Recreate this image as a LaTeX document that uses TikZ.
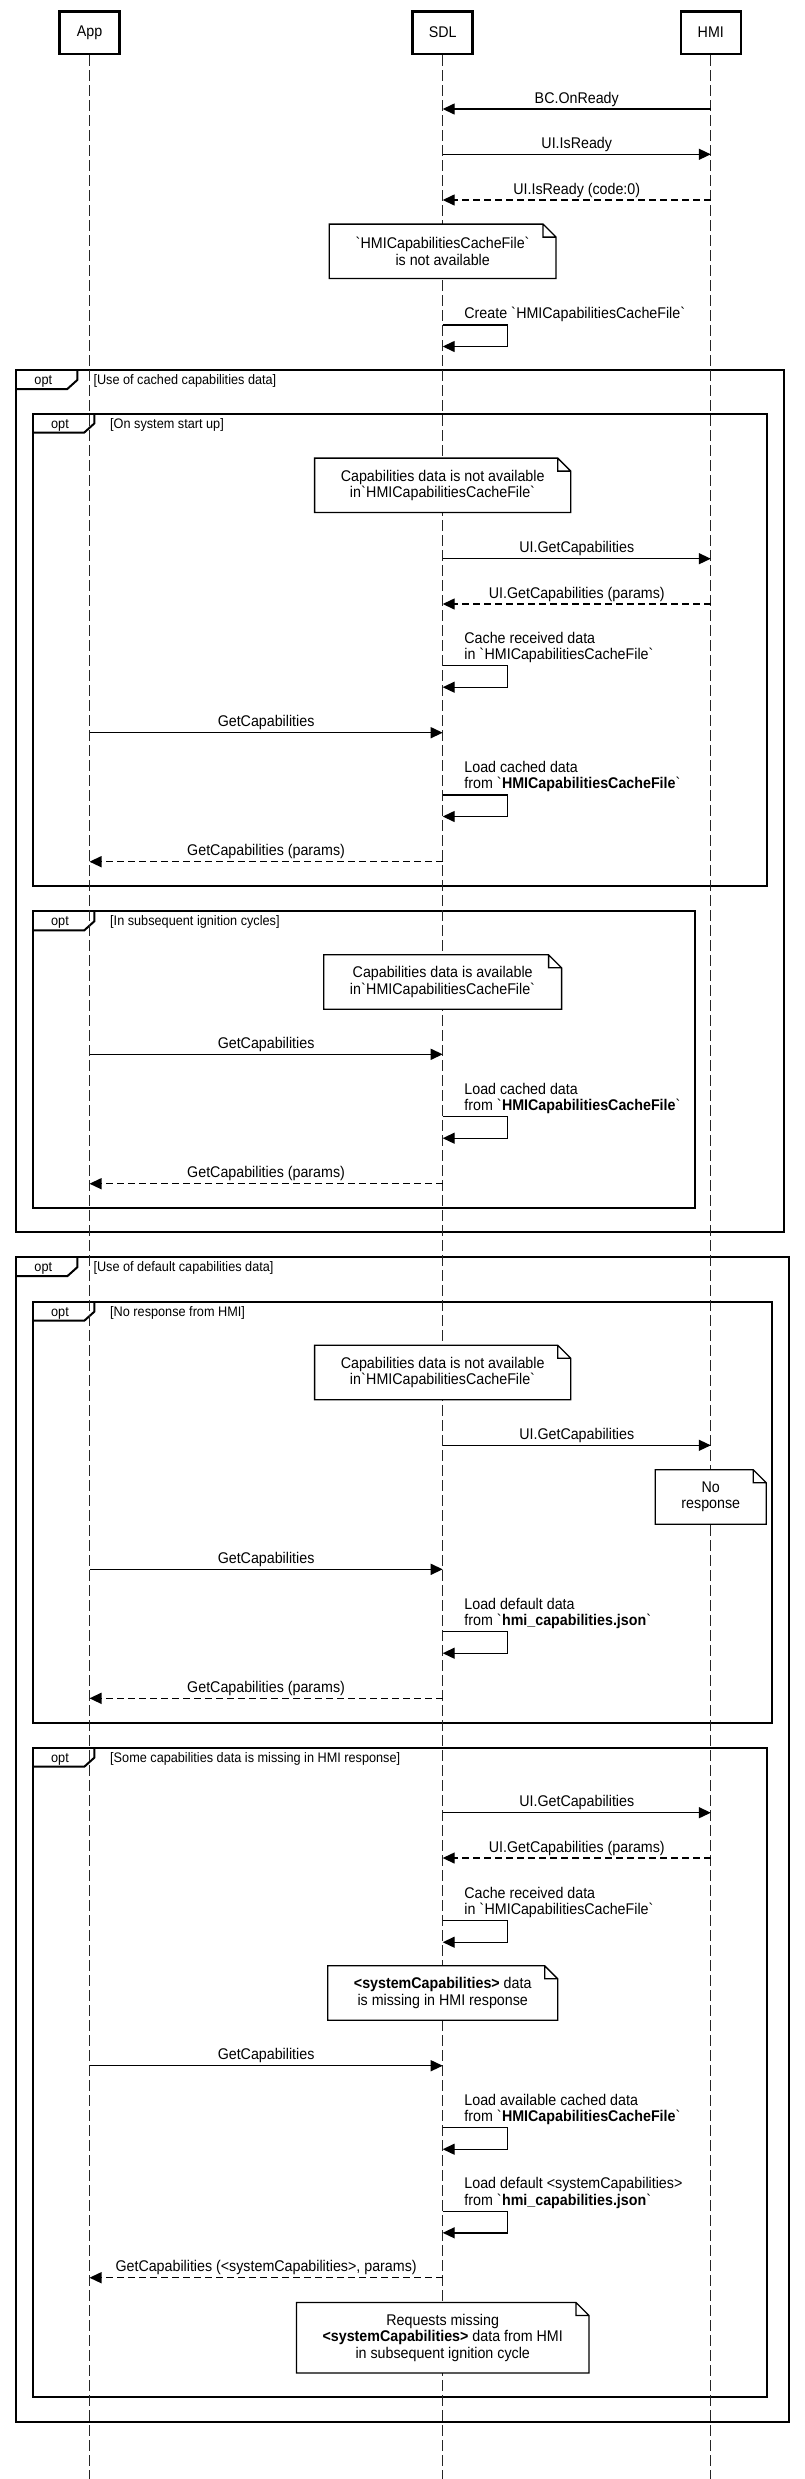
\documentclass[tikz,border=0pt]{standalone}
\usepackage{fontspec}
\setmainfont{Liberation Sans}[FakeStretch=0.92]
\usetikzlibrary{arrows.meta}

\begin{document}
\begin{tikzpicture}[x=1pt,y=-1pt,font=\fontsize{15.5}{16.3}\selectfont,
  actor/.style={draw,line width=2.5pt,minimum width=60pt,minimum height=42.5pt},
  life/.style={line width=1pt,black!85,dash pattern=on 11pt off 4pt},
  msg/.style={line width=1.4pt,-{Triangle[length=12pt,width=11pt]}},
  reply/.style={msg,dash pattern=on 7pt off 4pt},
  lbl/.style={anchor=base,inner sep=0pt,yshift=6pt},
  selflbl/.style={anchor=base west,align=left,inner sep=0pt,xshift=21.5pt,yshift=6.2pt},
  note/.style={fill=white,align=center,inner xsep=26pt,inner ysep=0pt,minimum height=54pt},
  fold/.style={line width=1.3pt},
  frame/.style={line width=2pt},
  optlbl/.style={anchor=base,inner sep=0pt,font=\fontsize{13.8}{15}\selectfont},
  guard/.style={anchor=base west,inner sep=0pt,font=\fontsize{13.8}{15}\selectfont}]
  \fill[white] (0,0) rectangle (804,2479);
  \useasboundingbox (0,0) rectangle (804,2479);

  \draw[frame] (16,370) rectangle (784.3,1232.3);
  \draw[frame] (16,389) -- (67.3,389) -- (77.3,380) -- (77.3,370);
  \node[optlbl] (o1) at (43.3,384) {opt};
  \node[guard] (g1) at (93.3,384) {[Use of cached capabilities data]};
  \draw[frame] (32.5,413.5) rectangle (767.3,885.5);
  \draw[frame] (32.5,432.5) -- (84.3,432.5) -- (94.3,423.5) -- (94.3,413.5);
  \node[optlbl] (o2) at (60,428) {opt};
  \node[guard] (g2) at (110,428) {[On system start up]};
  \draw[frame] (32.5,911.3) rectangle (694.7,1208.3);
  \draw[frame] (32.5,930.3) -- (84.3,930.3) -- (94.3,921.3) -- (94.3,911.3);
  \node[optlbl] (o3) at (60,925.8) {opt};
  \node[guard] (g3) at (110,925.8) {[In subsequent ignition cycles]};
  \draw[frame] (16,1257.2) rectangle (788.7,2421.7);
  \draw[frame] (16,1276.2) -- (67.3,1276.2) -- (77.3,1267.2) -- (77.3,1257.2);
  \node[optlbl] (o4) at (43.3,1271.2) {opt};
  \node[guard] (g4) at (93.3,1271.2) {[Use of default capabilities data]};
  \draw[frame] (32.5,1301.7) rectangle (772.3,1722.7);
  \draw[frame] (32.5,1320.7) -- (84.3,1320.7) -- (94.3,1311.7) -- (94.3,1301.7);
  \node[optlbl] (o5) at (60,1316.2) {opt};
  \node[guard] (g5) at (110,1316.2) {[No response from HMI]};
  \draw[frame] (32.5,1747.7) rectangle (767.3,2396.7);
  \draw[frame] (32.5,1766.7) -- (84.3,1766.7) -- (94.3,1757.7) -- (94.3,1747.7);
  \node[optlbl] (o6) at (60,1762.2) {opt};
  \node[guard] (g6) at (110,1762.2) {[Some capabilities data is missing in HMI response]};

  \node[actor] (app) at (89.5,32.5) {App};
  \node[actor] (sdl) at (442.7,32.5) {SDL};
  \node[actor] (hmi) at (710.8,32.5) {HMI};
  \draw[life] (app.south) -- (app |- 0,2479);
  \draw[life] (sdl.south) -- (sdl |- 0,2479);
  \draw[life] (hmi.south) -- (hmi |- 0,2479);

  \draw[msg] (hmi |- 0,109) -- node[lbl] (l1) {BC.OnReady} (sdl |- 0,109);
  \draw[msg] (sdl |- 0,154.3) -- node[lbl] (l2) {UI.IsReady} (hmi |- 0,154.3);
  \draw[reply] (hmi |- 0,200) -- node[lbl] (l3) {UI.IsReady (code:0)} (sdl |- 0,200);
  \node[note] (n1) at (sdl |- 0,251.3) {\textasciigrave HMICapabilitiesCacheFile\textasciigrave\\is not available};
  \draw[fold] (n1.north west) -- ([xshift=-13pt]n1.north east) -- ([yshift=-13pt]n1.north east) -- (n1.south east) -- (n1.south west) -- cycle ([xshift=-13pt]n1.north east) |- ([yshift=-13pt]n1.north east);
  \draw[msg] (sdl |- 0,325) -- ++(65,0) -- ++(0,21.5) -- (sdl |- 0,346.5);
  \node[selflbl] (s1) at (sdl |- 0,325) {Create \textasciigrave HMICapabilitiesCacheFile\textasciigrave};

  \node[note] (n2) at (sdl |- 0,485.3) {Capabilities data is not available\\in\textasciigrave HMICapabilitiesCacheFile\textasciigrave};
  \draw[fold] (n2.north west) -- ([xshift=-13pt]n2.north east) -- ([yshift=-13pt]n2.north east) -- (n2.south east) -- (n2.south west) -- cycle ([xshift=-13pt]n2.north east) |- ([yshift=-13pt]n2.north east);
  \draw[msg] (sdl |- 0,558.7) -- node[lbl] (l4) {UI.GetCapabilities} (hmi |- 0,558.7);
  \draw[reply] (hmi |- 0,604) -- node[lbl] (l5) {UI.GetCapabilities (params)} (sdl |- 0,604);
  \draw[msg] (sdl |- 0,665.7) -- ++(65,0) -- ++(0,21.5) -- (sdl |- 0,687.2);
  \node[selflbl] (s2) at (sdl |- 0,665.7) {Cache received data\\in \textasciigrave HMICapabilitiesCacheFile\textasciigrave};
  \draw[msg] (app |- 0,732.7) -- node[lbl] (l6) {GetCapabilities} (sdl |- 0,732.7);
  \draw[msg] (sdl |- 0,795) -- ++(65,0) -- ++(0,21.5) -- (sdl |- 0,816.5);
  \node[selflbl] (s3) at (sdl |- 0,795) {Load cached data\\from \textasciigrave\textbf{HMICapabilitiesCacheFile}\textasciigrave};
  \draw[reply] (sdl |- 0,861.7) -- node[lbl] (l7) {GetCapabilities (params)} (app |- 0,861.7);

  \node[note] (n3) at (sdl |- 0,982) {Capabilities data is available\\in\textasciigrave HMICapabilitiesCacheFile\textasciigrave};
  \draw[fold] (n3.north west) -- ([xshift=-13pt]n3.north east) -- ([yshift=-13pt]n3.north east) -- (n3.south east) -- (n3.south west) -- cycle ([xshift=-13pt]n3.north east) |- ([yshift=-13pt]n3.north east);
  \draw[msg] (app |- 0,1054.3) -- node[lbl] (l8) {GetCapabilities} (sdl |- 0,1054.3);
  \draw[msg] (sdl |- 0,1116.7) -- ++(65,0) -- ++(0,21.5) -- (sdl |- 0,1138.2);
  \node[selflbl] (s4) at (sdl |- 0,1116.7) {Load cached data\\from \textasciigrave\textbf{HMICapabilitiesCacheFile}\textasciigrave};
  \draw[reply] (sdl |- 0,1183.7) -- node[lbl] (l9) {GetCapabilities (params)} (app |- 0,1183.7);

  \node[note] (n4) at (sdl |- 0,1372.5) {Capabilities data is not available\\in\textasciigrave HMICapabilitiesCacheFile\textasciigrave};
  \draw[fold] (n4.north west) -- ([xshift=-13pt]n4.north east) -- ([yshift=-13pt]n4.north east) -- (n4.south east) -- (n4.south west) -- cycle ([xshift=-13pt]n4.north east) |- ([yshift=-13pt]n4.north east);
  \draw[msg] (sdl |- 0,1445.3) -- node[lbl] (l10) {UI.GetCapabilities} (hmi |- 0,1445.3);
  \node[note] (n5) at (hmi |- 0,1497) {No\\response};
  \draw[fold] (n5.north west) -- ([xshift=-13pt]n5.north east) -- ([yshift=-13pt]n5.north east) -- (n5.south east) -- (n5.south west) -- cycle ([xshift=-13pt]n5.north east) |- ([yshift=-13pt]n5.north east);
  \draw[msg] (app |- 0,1569.3) -- node[lbl] (l11) {GetCapabilities} (sdl |- 0,1569.3);
  \draw[msg] (sdl |- 0,1631.7) -- ++(65,0) -- ++(0,21.5) -- (sdl |- 0,1653.2);
  \node[selflbl] (s5) at (sdl |- 0,1631.7) {Load default data\\from \textasciigrave\textbf{hmi\_capabilities.json}\textasciigrave};
  \draw[reply] (sdl |- 0,1698.3) -- node[lbl] (l12) {GetCapabilities (params)} (app |- 0,1698.3);

  \draw[msg] (sdl |- 0,1812.7) -- node[lbl] (l13) {UI.GetCapabilities} (hmi |- 0,1812.7);
  \draw[reply] (hmi |- 0,1858) -- node[lbl] (l14) {UI.GetCapabilities (params)} (sdl |- 0,1858);
  \draw[msg] (sdl |- 0,1920.7) -- ++(65,0) -- ++(0,21.5) -- (sdl |- 0,1942.2);
  \node[selflbl] (s6) at (sdl |- 0,1920.7) {Cache received data\\in \textasciigrave HMICapabilitiesCacheFile\textasciigrave};
  \node[note] (n6) at (sdl |- 0,1993) {\textbf{<systemCapabilities>} data\\is missing in HMI response};
  \draw[fold] (n6.north west) -- ([xshift=-13pt]n6.north east) -- ([yshift=-13pt]n6.north east) -- (n6.south east) -- (n6.south west) -- cycle ([xshift=-13pt]n6.north east) |- ([yshift=-13pt]n6.north east);
  \draw[msg] (app |- 0,2065.7) -- node[lbl] (l15) {GetCapabilities} (sdl |- 0,2065.7);
  \draw[msg] (sdl |- 0,2127.7) -- ++(65,0) -- ++(0,21.5) -- (sdl |- 0,2149.2);
  \node[selflbl] (s7) at (sdl |- 0,2127.7) {Load available cached data\\from \textasciigrave\textbf{HMICapabilitiesCacheFile}\textasciigrave};
  \draw[msg] (sdl |- 0,2211.3) -- ++(65,0) -- ++(0,21.5) -- (sdl |- 0,2232.8);
  \node[selflbl] (s8) at (sdl |- 0,2211.3) {Load default <systemCapabilities>\\from \textasciigrave\textbf{hmi\_capabilities.json}\textasciigrave};
  \draw[reply] (sdl |- 0,2277.7) -- node[lbl] (l16) {GetCapabilities (<systemCapabilities>, params)} (app |- 0,2277.7);
  \node[note,minimum height=70pt] (n7) at (sdl |- 0,2337.7) {Requests missing\\\textbf{<systemCapabilities>} data from HMI\\in subsequent ignition cycle};
  \draw[fold] (n7.north west) -- ([xshift=-13pt]n7.north east) -- ([yshift=-13pt]n7.north east) -- (n7.south east) -- (n7.south west) -- cycle ([xshift=-13pt]n7.north east) |- ([yshift=-13pt]n7.north east);
\end{tikzpicture}
\end{document}
